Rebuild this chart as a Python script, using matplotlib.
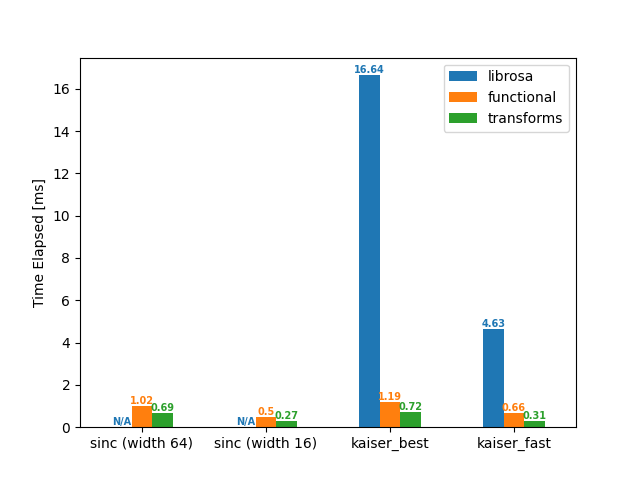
import numpy as np
import matplotlib
matplotlib.use("Agg")
import matplotlib.pyplot as plt

methods = ["sinc (width 64)", "sinc (width 16)", "kaiser_best", "kaiser_fast"]
series = ["librosa", "functional", "transforms"]
librosa = [0.0, 0.0, 16.64, 4.63]
functional = [1.02, 0.5, 1.19, 0.66]
transforms = [0.69, 0.27, 0.72, 0.31]
librosa_labels = ["N/A", "N/A", "16.64", "4.63"]
functional_labels = ["1.02", "0.5", "1.19", "0.66"]
transforms_labels = ["0.69", "0.27", "0.72", "0.31"]

colors = ["#1f77b4", "#ff7f0e", "#2ca02c"]
values = [librosa, functional, transforms]
labels = [librosa_labels, functional_labels, transforms_labels]

fig, ax = plt.subplots(figsize=(6.4, 4.8), dpi=100)
x = np.arange(len(methods))
w = 0.5 / 3
for i, (name, vals, labs) in enumerate(zip(series, values, labels)):
    bars = ax.bar(x + (i - 1) * w, vals, w, color=colors[i], label=name)
    ax.bar_label(bars, labels=labs, color=colors[i], fontsize=7, fontweight="bold")

ax.set_xticks(x)
ax.set_xticklabels(methods)
ax.set_xlim(-0.5, len(methods) - 0.5)
ax.set_ylabel("Time Elapsed [ms]")
ax.legend()
fig.savefig("out.png")
